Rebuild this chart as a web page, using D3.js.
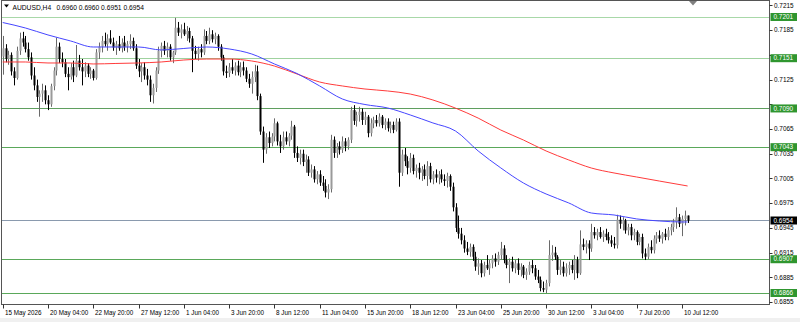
<!DOCTYPE html>
<html><head><meta charset="utf-8">
<script src="https://cdn.jsdelivr.net/npm/d3@7"></script>
<style>html,body{margin:0;padding:0;background:#fff;overflow:hidden}</style>
</head><body><svg id="c" width="800" height="322"></svg>
<script>
const symbol = "AUDUSD", timeframe = "H4";
const opens = [
.7153,.7163,.7150,.7155,.7135,.7127,.7160,.7175,.7170,.7162,
.7152,.7130,.7118,.7104,.7108,.7112,.7100,.7095,.7117,.7136,
.7165,.7150,.7146,.7132,.7128,.7140,.7130,.7148,.7140,.7135,
.7142,.7132,.7136,.7127,.7158,.7165,.7172,.7168,.7175,.7170,
.7164,.7168,.7163,.7170,.7165,.7168,.7172,.7163,.7142,.7135,
.7140,.7130,.7125,.7106,.7115,.7136,.7160,.7166,.7160,.7165,
.7152,.7158,.7188,.7182,.7186,.7180,.7184,.7175,.7160,.7156,
.7162,.7158,.7178,.7172,.7180,.7174,.7178,.7165,.7152,.7135,
.7133,.7140,.7136,.7142,.7134,.7140,.7136,.7126,.7120,.7128,
.7135,.7105,.7062,.7040,.7055,.7048,.7056,.7072,.7050,.7044,
.7055,.7050,.7057,.7068,.7036,.7030,.7035,.7025,.7028,.7012,
.7016,.7004,.7010,.7000,.6996,.6988,.6992,.7052,.7036,.7044,
.7040,.7050,.7044,.7052,.7088,.7075,.7082,.7086,.7076,.7080,
.7060,.7072,.7076,.7072,.7080,.7070,.7074,.7066,.7070,.7064,
.7074,.7012,.7034,.7026,.7018,.7030,.7014,.7018,.7012,.7016,
.7008,.7020,.7004,.7010,.7006,.7010,.7004,.7002,.7008,.6995,
.6970,.6945,.6938,.6930,.6920,.6916,.6922,.6910,.6898,.6902,
.6890,.6900,.6896,.6902,.6908,.6904,.6912,.6920,.6906,.6900,
.6904,.6896,.6902,.6894,.6898,.6888,.6892,.6900,.6896,.6886,
.6882,.6872,.6870,.6878,.6912,.6915,.6910,.6894,.6898,.6890,
.6896,.6900,.6894,.6906,.6890,.6925,.6922,.6926,.6920,.6940,
.6936,.6940,.6934,.6938,.6934,.6930,.6926,.6924,.6955,.6950,
.6954,.6942,.6946,.6936,.6940,.6928,.6934,.6914,.6910,.6922,
.6918,.6932,.6936,.6932,.6938,.6934,.6942,.6946,.6952,.6958,
.6950,.6956,.6960];
const highs = [
.7178,.7168,.7160,.7158,.7140,.7165,.7182,.7183,.7178,.7170,
.7158,.7140,.7125,.7112,.7120,.7118,.7106,.7120,.7140,.7176,
.7170,.7158,.7150,.7140,.7145,.7148,.7167,.7155,.7150,.7146,
.7145,.7140,.7138,.7162,.7170,.7178,.7182,.7180,.7185,.7176,
.7172,.7178,.7175,.7178,.7172,.7180,.7176,.7168,.7150,.7145,
.7146,.7138,.7130,.7120,.7140,.7165,.7170,.7172,.7170,.7168,
.7160,.7200,.7195,.7192,.7194,.7190,.7188,.7178,.7166,.7165,
.7168,.7186,.7184,.7188,.7185,.7182,.7180,.7168,.7155,.7142,
.7145,.7150,.7146,.7148,.7146,.7147,.7140,.7132,.7135,.7143,
.7142,.7108,.7068,.7060,.7062,.7060,.7078,.7074,.7058,.7062,
.7062,.7060,.7075,.7070,.7044,.7040,.7040,.7034,.7032,.7022,
.7020,.7014,.7015,.7008,.7004,.6998,.7058,.7056,.7048,.7050,
.7056,.7054,.7055,.7092,.7094,.7086,.7092,.7090,.7086,.7082,
.7078,.7080,.7082,.7084,.7082,.7078,.7078,.7074,.7074,.7078,
.7078,.7040,.7042,.7032,.7036,.7034,.7022,.7024,.7020,.7022,
.7026,.7024,.7014,.7016,.7014,.7016,.7010,.7012,.7010,.7000,
.6975,.6960,.6945,.6936,.6928,.6926,.6925,.6916,.6908,.6906,
.6904,.6912,.6906,.6912,.6914,.6916,.6928,.6924,.6912,.6908,
.6910,.6906,.6908,.6902,.6900,.6896,.6904,.6906,.6900,.6894,
.6886,.6880,.6882,.6930,.6924,.6922,.6912,.6906,.6904,.6902,
.6904,.6906,.6912,.6910,.6942,.6932,.6930,.6930,.6950,.6946,
.6944,.6946,.6942,.6944,.6940,.6936,.6934,.6961,.6960,.6958,
.6956,.6950,.6950,.6944,.6942,.6938,.6938,.6920,.6926,.6930,
.6936,.6940,.6942,.6940,.6944,.6946,.6950,.6956,.6970,.6962,
.6960,.6966,.6960];
const lows = [
.7131,.7146,.7143,.7130,.7118,.7125,.7155,.7165,.7158,.7148,
.7125,.7112,.7098,.7080,.7098,.7095,.7088,.7092,.7112,.7130,
.7145,.7140,.7128,.7112,.7125,.7122,.7128,.7136,.7118,.7128,
.7128,.7126,.7124,.7125,.7150,.7158,.7165,.7160,.7168,.7160,
.7155,.7160,.7158,.7160,.7158,.7162,.7160,.7138,.7128,.7122,
.7125,.7118,.7098,.7096,.7110,.7132,.7152,.7155,.7152,.7148,
.7145,.7155,.7178,.7175,.7178,.7172,.7170,.7134,.7150,.7148,
.7152,.7155,.7168,.7168,.7170,.7168,.7160,.7148,.7130,.7127,
.7128,.7132,.7130,.7130,.7128,.7130,.7122,.7115,.7108,.7122,
.7100,.7058,.7024,.7035,.7042,.7044,.7050,.7045,.7036,.7040,
.7046,.7044,.7052,.7030,.7025,.7022,.7020,.7012,.7008,.7006,
.7000,.6998,.6996,.6990,.6982,.6980,.6988,.7030,.7030,.7034,
.7036,.7038,.7040,.7048,.7070,.7068,.7074,.7070,.7070,.7055,
.7056,.7066,.7068,.7068,.7066,.7064,.7062,.7060,.7060,.7062,
.6995,.7008,.7020,.7010,.7012,.7010,.7006,.7004,.7002,.7004,
.6996,.7000,.6998,.7000,.6998,.7000,.6996,.6994,.6990,.6965,
.6940,.6932,.6925,.6915,.6912,.6910,.6905,.6893,.6888,.6885,
.6886,.6894,.6888,.6896,.6898,.6900,.6906,.6902,.6896,.6878,
.6892,.6890,.6888,.6886,.6884,.6882,.6888,.6890,.6882,.6878,
.6868,.6867,.6866,.6874,.6905,.6906,.6888,.6888,.6886,.6886,
.6888,.6890,.6882,.6884,.6888,.6918,.6914,.6906,.6916,.6932,
.6930,.6932,.6928,.6930,.6926,.6922,.6920,.6920,.6944,.6942,
.6938,.6936,.6930,.6930,.6924,.6924,.6908,.6906,.6907,.6914,
.6914,.6926,.6928,.6926,.6930,.6930,.6936,.6940,.6944,.6946,
.6935,.6948,.6951];
const closes = [
.7163,.7150,.7155,.7135,.7127,.7160,.7175,.7170,.7162,.7152,
.7130,.7118,.7104,.7108,.7112,.7100,.7095,.7117,.7136,.7165,
.7150,.7146,.7132,.7128,.7140,.7130,.7148,.7140,.7135,.7142,
.7132,.7136,.7127,.7158,.7165,.7172,.7168,.7175,.7170,.7164,
.7168,.7163,.7170,.7165,.7168,.7172,.7163,.7142,.7135,.7140,
.7130,.7125,.7106,.7115,.7136,.7160,.7166,.7160,.7165,.7152,
.7158,.7188,.7182,.7186,.7180,.7184,.7175,.7160,.7156,.7162,
.7158,.7178,.7172,.7180,.7174,.7178,.7165,.7152,.7135,.7133,
.7140,.7136,.7142,.7134,.7140,.7136,.7126,.7120,.7128,.7135,
.7105,.7062,.7040,.7055,.7048,.7056,.7072,.7050,.7044,.7055,
.7050,.7057,.7068,.7036,.7030,.7035,.7025,.7028,.7012,.7016,
.7004,.7010,.7000,.6996,.6988,.6992,.7052,.7036,.7044,.7040,
.7050,.7044,.7052,.7088,.7075,.7082,.7086,.7076,.7080,.7060,
.7072,.7076,.7072,.7080,.7070,.7074,.7066,.7070,.7064,.7074,
.7012,.7034,.7026,.7018,.7030,.7014,.7018,.7012,.7016,.7008,
.7020,.7004,.7010,.7006,.7010,.7004,.7002,.7008,.6995,.6970,
.6945,.6938,.6930,.6920,.6916,.6922,.6910,.6898,.6902,.6890,
.6900,.6896,.6902,.6908,.6904,.6912,.6920,.6906,.6900,.6904,
.6896,.6902,.6894,.6898,.6888,.6892,.6900,.6896,.6886,.6882,
.6872,.6870,.6878,.6912,.6915,.6910,.6894,.6898,.6890,.6896,
.6900,.6894,.6906,.6890,.6925,.6922,.6926,.6920,.6940,.6936,
.6940,.6934,.6938,.6934,.6930,.6926,.6924,.6955,.6950,.6954,
.6942,.6946,.6936,.6940,.6928,.6934,.6914,.6910,.6922,.6918,
.6932,.6936,.6932,.6938,.6934,.6942,.6946,.6952,.6958,.6950,
.6956,.6960,.6954];

const timeLabels = ["15 May 2026","20 May 04:00","22 May 20:00","27 May 12:00","1 Jun 04:00","3 Jun 20:00","8 Jun 12:00","11 Jun 04:00","15 Jun 20:00","18 Jun 12:00","23 Jun 04:00","25 Jun 20:00","30 Jun 12:00","3 Jul 04:00","7 Jul 20:00","10 Jul 12:00"];
const timeLabelBars = [0,16,32,48,64,80,96,112,128,144,160,176,192,208,224,240];
const priceTicks = [0.6855,0.6885,0.6915,0.6945,0.6975,0.7005,0.7035,0.7065,0.7095,0.7125,0.7155,0.7185,0.7215];
const levelLines = [0.7201,0.7151,0.7090,0.7043,0.6907,0.6866];
const bidPrice = 0.6954;
const maBars = [0,8,16,24,32,40,48,56,64,72,80,88,96,104,112,120,128,136,144,152,160,168,176,184,192,200,208,216,224,232,240,242];
const maFast = [0.71943,0.71877,0.71792,0.71719,0.71646,0.71646,0.71646,0.71610,0.71628,0.71646,0.71622,0.71561,0.71440,0.71324,0.71173,0.71015,0.70948,0.70906,0.70821,0.70724,0.70626,0.70384,0.70178,0.69995,0.69862,0.69753,0.69631,0.69607,0.69559,0.69534,0.69522,0.69522];
const maSlow = [0.71464,0.71464,0.71452,0.71452,0.71440,0.71446,0.71452,0.71464,0.71488,0.71500,0.71500,0.71476,0.71415,0.71318,0.71221,0.71173,0.71136,0.71112,0.71075,0.71003,0.70904,0.70783,0.70638,0.70517,0.70384,0.70275,0.70177,0.70117,0.70068,0.70019,0.69971,0.69959];

const W = 800, H = 322;
const plot = {left: 1.5, right: 769.5, top: 0.5, bottom: 304.5};
const svg = d3.select("#c");
const font = "'Liberation Sans', Arial, sans-serif";
const n = closes.length;
const x = d3.scaleLinear().domain([0, n - 1]).range([2.7, 687.6]);
const y = d3.scaleLinear().domain([levelLines[5], levelLines[0]]).range([293, 17]);
const px = v => Math.round(x(v)) + 0.5;
const py = v => Math.round(y(v)) + 0.5;

svg.append("rect").attr("width", W).attr("height", H).attr("fill", "#fff");
svg.append("rect").attr("x", 0).attr("y", 318).attr("width", W).attr("height", 4).attr("fill", "#f0f0f0");

svg.append("defs").append("clipPath").attr("id", "pc").append("rect")
  .attr("x", plot.left).attr("y", plot.top).attr("width", plot.right - plot.left).attr("height", plot.bottom - plot.top);
const g = svg.append("g").attr("clip-path", "url(#pc)");

// horizontal level lines
const levelColors = ["#a8d8a8", "#9fd29f", "#5f9f5f", "#5aa85a", "#5aa85a", "#5aa85a"];
g.selectAll("line.lvl").data(levelLines).join("line").attr("class", "lvl")
  .attr("x1", plot.left).attr("x2", plot.right)
  .attr("y1", d => py(d)).attr("y2", d => py(d))
  .attr("stroke", (d, i) => levelColors[i]).attr("stroke-width", 1);
g.append("line").attr("x1", plot.left).attr("x2", plot.right)
  .attr("y1", py(bidPrice)).attr("y2", py(bidPrice))
  .attr("stroke", "#8a9aae").attr("stroke-width", 1);

// candles
const idx = d3.range(n);
const cg = g.append("g");
cg.selectAll("line.wick").data(idx).join("line").attr("class", "wick")
  .attr("x1", i => px(i)).attr("x2", i => px(i))
  .attr("y1", i => y(highs[i])).attr("y2", i => y(lows[i]))
  .attr("stroke", i => closes[i] >= opens[i] ? "#6a6a6a" : "#000").attr("stroke-width", 1);
cg.selectAll("rect.body").data(idx).join("rect").attr("class", "body")
  .attr("x", i => Math.round(x(i)) - 0.5)
  .attr("width", 2)
  .attr("y", i => Math.min(y(opens[i]), y(closes[i])))
  .attr("height", i => Math.max(1, Math.abs(y(opens[i]) - y(closes[i]))))
  .attr("fill", i => closes[i] >= opens[i] ? "#9a9a9a" : "#000");

// moving averages
const maLine = d3.line().x((d, i) => x(maBars[i])).y(d => y(d)).curve(d3.curveMonotoneX);
g.append("path").attr("d", maLine(maSlow)).attr("fill", "none").attr("stroke", "#ff3b3b").attr("stroke-width", 1);
g.append("path").attr("d", maLine(maFast)).attr("fill", "none").attr("stroke", "#4646ff").attr("stroke-width", 1);

// frame
svg.append("rect").attr("x", plot.left).attr("y", plot.top)
  .attr("width", plot.right - plot.left).attr("height", plot.bottom - plot.top)
  .attr("fill", "none").attr("stroke", "#555").attr("stroke-width", 1);

// chart shift marker
svg.append("path").attr("d", "M689,1 L697,1 L693,5.5 Z").attr("fill", "#808080");

// price axis (labels hidden behind a level box are not drawn)
const boxes = levelLines.map(v => ({v, bg: "#2f962f"})).concat([{v: bidPrice, bg: "#000"}]);
const visibleTicks = priceTicks.filter(t => boxes.every(b => Math.abs(y(t) - y(b.v)) > 6.5));
const pa = svg.append("g");
pa.selectAll("line").data(priceTicks).join("line")
  .attr("x1", plot.right).attr("x2", plot.right + 3)
  .attr("y1", d => py(d)).attr("y2", d => py(d)).attr("stroke", "#333");
pa.selectAll("text").data(visibleTicks).join("text")
  .attr("x", 774).attr("y", d => y(d)).attr("dy", "0.35em")
  .attr("font-family", font).attr("font-size", 6.4).attr("fill", "#000")
  .text(d => d3.format(".4f")(d));

// level boxes
const bg = svg.append("g");
bg.selectAll("rect").data(boxes).join("rect")
  .attr("x", 770.5).attr("y", d => y(d.v) - 4).attr("width", 26.5).attr("height", 8)
  .attr("fill", d => d.bg);
bg.selectAll("text").data(boxes).join("text")
  .attr("x", 773.5).attr("y", d => y(d.v)).attr("dy", "0.35em")
  .attr("font-family", font).attr("font-size", 6.4).attr("fill", "#fff")
  .text(d => d3.format(".4f")(d.v));

// time axis
const ta = svg.append("g");
ta.selectAll("line").data(timeLabelBars).join("line")
  .attr("x1", b => px(b)).attr("x2", b => px(b))
  .attr("y1", plot.bottom).attr("y2", plot.bottom + 4).attr("stroke", "#333");
ta.selectAll("text").data(timeLabels).join("text")
  .attr("x", (d, i) => px(timeLabelBars[i]) + 1.5).attr("y", 314.5)
  .attr("font-family", font).attr("font-size", 6.3).attr("fill", "#000")
  .text(d => d);

// title
svg.append("path").attr("d", "M4,4.5 L9,4.5 L6.5,7.5 Z").attr("fill", "#000");
svg.append("text").attr("x", 12.5).attr("y", 10.3)
  .attr("font-family", font).attr("font-size", 6.7).attr("fill", "#000")
  .text(symbol + "," + timeframe);
const fmt = d3.format(".4f");
svg.append("text").attr("x", 56.5).attr("y", 10.3)
  .attr("font-family", font).attr("font-size", 6.7).attr("fill", "#000")
  .text([opens[n-1], highs[n-1], lows[n-1], closes[n-1]].map(fmt).join(" "));
</script></body></html>
